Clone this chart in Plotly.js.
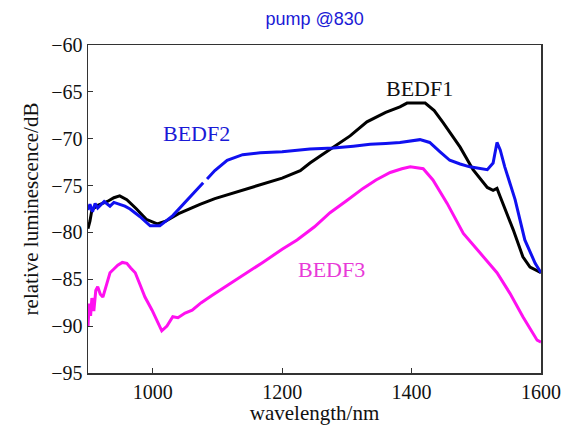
<!DOCTYPE html>
<html>
<head>
<meta charset="utf-8">
<script src="https://cdn.plot.ly/plotly-3.0.1.min.js"></script>
<style>html,body{margin:0;padding:0;background:#fff;}#chart{width:567px;height:425px;}</style>
</head>
<body>
<div id="chart"></div>
<script>
const bedf1X = [900, 903, 906, 915, 930, 940, 949, 960, 975, 990, 1007, 1020, 1040, 1060, 1073, 1096, 1115, 1140, 1166, 1200, 1228, 1243, 1260, 1277, 1305, 1331, 1360, 1382, 1393, 1421, 1435, 1449, 1462, 1475, 1495, 1517, 1526, 1532, 1537, 1557, 1572, 1583, 1600];
const bedf1Y = [-79.6, -78.8, -77.6, -77.1, -76.7, -76.3, -76.1, -76.5, -77.5, -78.6, -79.1, -78.8, -78.0, -77.4, -77.0, -76.4, -76.0, -75.5, -74.9, -74.2, -73.4, -72.6, -71.8, -71.0, -69.7, -68.2, -67.2, -66.6, -66.2, -66.2, -67.0, -68.3, -69.6, -70.9, -73.3, -75.2, -75.5, -75.3, -76.2, -79.7, -82.6, -83.7, -84.3];

const bedf2X = [900, 903, 907, 911, 915, 919, 925, 934, 940, 949, 957, 965, 980, 996, 1011, 1031, 1050, 1062, 1073, 1078, 1080, 1084, 1096, 1115, 1139, 1166, 1200, 1243, 1279, 1310, 1336, 1360, 1382, 1413, 1428, 1444, 1459, 1475, 1490, 1517, 1526, 1532, 1537, 1544, 1560, 1575, 1591, 1600];
const bedf2Y = [-77.6, -77.0, -77.8, -76.9, -77.4, -77.1, -76.7, -77.2, -76.8, -77.0, -77.2, -77.5, -78.3, -79.3, -79.3, -78.2, -76.8, -75.9, -75.1, -74.7, null, -74.3, -73.4, -72.3, -71.7, -71.5, -71.4, -71.1, -71.0, -70.8, -70.6, -70.5, -70.4, -70.1, -70.4, -71.4, -72.3, -72.7, -73.0, -73.3, -72.6, -70.4, -71.2, -73.0, -76.5, -80.8, -83.3, -84.3];

const bedf3X = [900, 902, 904, 906, 909, 912, 915, 919, 923, 928, 934, 940, 946, 953, 960, 966, 973, 980, 988, 999, 1008, 1014, 1022, 1031, 1039, 1050, 1061, 1075, 1092, 1110, 1127, 1150, 1170, 1200, 1223, 1250, 1274, 1300, 1325, 1345, 1367, 1385, 1398, 1418, 1433, 1455, 1480, 1506, 1532, 1552, 1572, 1594, 1600];
const bedf3Y = [-90.0, -87.6, -88.9, -87.0, -88.4, -86.2, -85.8, -86.6, -86.9, -85.6, -84.3, -83.9, -83.5, -83.2, -83.3, -83.8, -84.3, -85.5, -86.9, -88.3, -89.6, -90.5, -90.0, -89.0, -89.1, -88.6, -88.3, -87.5, -86.7, -85.9, -85.1, -84.1, -83.2, -81.8, -80.8, -79.4, -77.9, -76.6, -75.3, -74.4, -73.6, -73.2, -73.0, -73.2, -74.4, -76.9, -80.1, -82.2, -84.3, -86.5, -89.0, -91.5, -91.7];

const xTicks = [1000, 1200, 1400, 1600];
const yTicks = [-95, -90, -85, -80, -75, -70, -65, -60];

const serif = "Liberation Serif, Times New Roman, serif";

const traces = [
  {x: bedf1X, y: bedf1Y, mode: 'lines', line: {color: '#000000', width: 3}, name: 'BEDF1', connectgaps: false},
  {x: bedf2X, y: bedf2Y, mode: 'lines', line: {color: '#1010f0', width: 3}, name: 'BEDF2', connectgaps: false},
  {x: bedf3X, y: bedf3Y, mode: 'lines', line: {color: '#ff10f0', width: 3}, name: 'BEDF3', connectgaps: false}
];

const axisCommon = {
  showgrid: false, zeroline: false, showline: true, mirror: true,
  linecolor: '#333333', linewidth: 1.5,
  ticks: 'inside', ticklen: 5, tickwidth: 1, tickcolor: '#333333',
  tickfont: {family: serif, size: 20, color: '#111111'}
};

const layout = {
  width: 567, height: 425,
  margin: {l: 88, r: 26, t: 45, b: 52},
  paper_bgcolor: '#ffffff', plot_bgcolor: '#ffffff',
  showlegend: false,
  title: {text: 'pump @830', font: {family: 'Liberation Sans, Arial, sans-serif', size: 18, color: '#1a1ad6'}, x: 0.555, xanchor: 'center', y: 0.955, yanchor: 'middle'},
  xaxis: Object.assign({}, axisCommon, {range: [900, 1600], tickvals: xTicks, ticktext: xTicks.map(String),
    title: {text: 'wavelength/nm', font: {family: serif, size: 21, color: '#111111'}, standoff: 0}}),
  yaxis: Object.assign({}, axisCommon, {range: [-95, -60], tickvals: yTicks,
    title: {text: 'relative luminescence/dB', font: {family: serif, size: 21, color: '#111111'}, standoff: 7}}),
  annotations: [
    {x: 1413, y: -64.6, text: 'BEDF1', showarrow: false, font: {family: serif, size: 22, color: '#111111'}},
    {x: 1068, y: -69.4, text: 'BEDF2', showarrow: false, font: {family: serif, size: 22, color: '#1a1ad6'}},
    {x: 1276, y: -84.0, text: 'BEDF3', showarrow: false, font: {family: serif, size: 22, color: '#e83ad8'}}
  ]
};

Plotly.newPlot('chart', traces, layout, {staticPlot: true, displayModeBar: false});
</script>
</body>
</html>
